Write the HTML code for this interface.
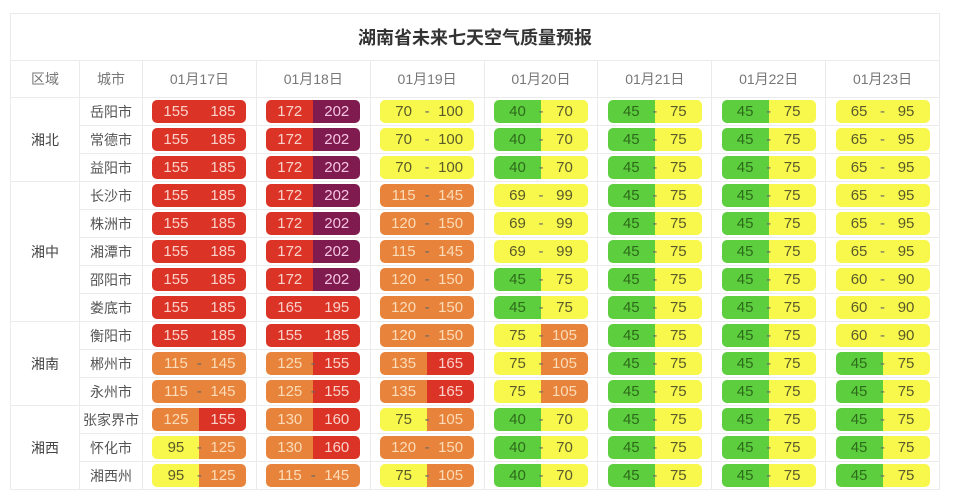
<!DOCTYPE html>
<html><head><meta charset="utf-8"><style>
*{margin:0;padding:0;box-sizing:border-box}
body{width:960px;height:496px;background:#fff;font-family:"Liberation Sans","Noto Sans CJK SC",sans-serif;overflow:hidden;position:relative}
table{position:absolute;left:10px;top:13px;width:930px;border-collapse:collapse;table-layout:fixed}
td,th{border:1px solid #ebebeb;text-align:center;font-weight:normal}
.t{height:47px;font-size:18px;font-weight:bold;color:#333}
.h th{height:37px;font-size:14px;color:#777}
tr.d td{height:28px;padding:0}
.reg{font-size:14px;color:#444}
.city{font-size:14px;color:#555}
.p{position:relative;margin:0 auto;width:94px;height:23px;border-radius:5px;overflow:hidden;display:flex;font-size:15px;line-height:23px}
.p i{font-style:normal;flex:1;text-align:center}
.p b{position:absolute;left:44px;top:0;width:6px;text-align:center;font-weight:normal;color:#666}
.g{background:#5dcf3f;color:#2d6a1a}
.y{background:#f8f84c;color:#5a5a2a}
.o{background:#e8833b;color:#fcdcb8}
.r{background:#dc3327;color:#fad2ca}
.u{background:#7f1b4f;color:#f6c4e2}
</style></head><body>
<table>
<colgroup><col style="width:69px"><col style="width:63px"><col><col><col><col><col><col><col></colgroup>
<tr><td colspan="9" class="t">湖南省未来七天空气质量预报</td></tr>
<tr class="h"><th>区域</th><th>城市</th><th>01月17日</th><th>01月18日</th><th>01月19日</th><th>01月20日</th><th>01月21日</th><th>01月22日</th><th>01月23日</th></tr>

<tr class="d"><td rowspan="3" class="reg">湘北</td><td class="city">岳阳市</td>
<td><div class="p"><i class="r">155</i><i class="r">185</i></div></td>
<td><div class="p"><i class="r">172</i><i class="u">202</i></div></td>
<td><div class="p"><i class="y">70</i><i class="y">100</i><b>-</b></div></td>
<td><div class="p"><i class="g">40</i><i class="y">70</i><b>-</b></div></td>
<td><div class="p"><i class="g">45</i><i class="y">75</i><b>-</b></div></td>
<td><div class="p"><i class="g">45</i><i class="y">75</i><b>-</b></div></td>
<td><div class="p"><i class="y">65</i><i class="y">95</i><b>-</b></div></td></tr>
<tr class="d"><td class="city">常德市</td>
<td><div class="p"><i class="r">155</i><i class="r">185</i></div></td>
<td><div class="p"><i class="r">172</i><i class="u">202</i></div></td>
<td><div class="p"><i class="y">70</i><i class="y">100</i><b>-</b></div></td>
<td><div class="p"><i class="g">40</i><i class="y">70</i><b>-</b></div></td>
<td><div class="p"><i class="g">45</i><i class="y">75</i><b>-</b></div></td>
<td><div class="p"><i class="g">45</i><i class="y">75</i><b>-</b></div></td>
<td><div class="p"><i class="y">65</i><i class="y">95</i><b>-</b></div></td></tr>
<tr class="d"><td class="city">益阳市</td>
<td><div class="p"><i class="r">155</i><i class="r">185</i></div></td>
<td><div class="p"><i class="r">172</i><i class="u">202</i></div></td>
<td><div class="p"><i class="y">70</i><i class="y">100</i><b>-</b></div></td>
<td><div class="p"><i class="g">40</i><i class="y">70</i><b>-</b></div></td>
<td><div class="p"><i class="g">45</i><i class="y">75</i><b>-</b></div></td>
<td><div class="p"><i class="g">45</i><i class="y">75</i><b>-</b></div></td>
<td><div class="p"><i class="y">65</i><i class="y">95</i><b>-</b></div></td></tr>

<tr class="d"><td rowspan="5" class="reg">湘中</td><td class="city">长沙市</td>
<td><div class="p"><i class="r">155</i><i class="r">185</i></div></td>
<td><div class="p"><i class="r">172</i><i class="u">202</i></div></td>
<td><div class="p"><i class="o">115</i><i class="o">145</i><b>-</b></div></td>
<td><div class="p"><i class="y">69</i><i class="y">99</i><b>-</b></div></td>
<td><div class="p"><i class="g">45</i><i class="y">75</i><b>-</b></div></td>
<td><div class="p"><i class="g">45</i><i class="y">75</i><b>-</b></div></td>
<td><div class="p"><i class="y">65</i><i class="y">95</i><b>-</b></div></td></tr>
<tr class="d"><td class="city">株洲市</td>
<td><div class="p"><i class="r">155</i><i class="r">185</i></div></td>
<td><div class="p"><i class="r">172</i><i class="u">202</i></div></td>
<td><div class="p"><i class="o">120</i><i class="o">150</i><b>-</b></div></td>
<td><div class="p"><i class="y">69</i><i class="y">99</i><b>-</b></div></td>
<td><div class="p"><i class="g">45</i><i class="y">75</i><b>-</b></div></td>
<td><div class="p"><i class="g">45</i><i class="y">75</i><b>-</b></div></td>
<td><div class="p"><i class="y">65</i><i class="y">95</i><b>-</b></div></td></tr>
<tr class="d"><td class="city">湘潭市</td>
<td><div class="p"><i class="r">155</i><i class="r">185</i></div></td>
<td><div class="p"><i class="r">172</i><i class="u">202</i></div></td>
<td><div class="p"><i class="o">115</i><i class="o">145</i><b>-</b></div></td>
<td><div class="p"><i class="y">69</i><i class="y">99</i><b>-</b></div></td>
<td><div class="p"><i class="g">45</i><i class="y">75</i><b>-</b></div></td>
<td><div class="p"><i class="g">45</i><i class="y">75</i><b>-</b></div></td>
<td><div class="p"><i class="y">65</i><i class="y">95</i><b>-</b></div></td></tr>
<tr class="d"><td class="city">邵阳市</td>
<td><div class="p"><i class="r">155</i><i class="r">185</i></div></td>
<td><div class="p"><i class="r">172</i><i class="u">202</i></div></td>
<td><div class="p"><i class="o">120</i><i class="o">150</i><b>-</b></div></td>
<td><div class="p"><i class="g">45</i><i class="y">75</i><b>-</b></div></td>
<td><div class="p"><i class="g">45</i><i class="y">75</i><b>-</b></div></td>
<td><div class="p"><i class="g">45</i><i class="y">75</i><b>-</b></div></td>
<td><div class="p"><i class="y">60</i><i class="y">90</i><b>-</b></div></td></tr>
<tr class="d"><td class="city">娄底市</td>
<td><div class="p"><i class="r">155</i><i class="r">185</i></div></td>
<td><div class="p"><i class="r">165</i><i class="r">195</i></div></td>
<td><div class="p"><i class="o">120</i><i class="o">150</i><b>-</b></div></td>
<td><div class="p"><i class="g">45</i><i class="y">75</i><b>-</b></div></td>
<td><div class="p"><i class="g">45</i><i class="y">75</i><b>-</b></div></td>
<td><div class="p"><i class="g">45</i><i class="y">75</i><b>-</b></div></td>
<td><div class="p"><i class="y">60</i><i class="y">90</i><b>-</b></div></td></tr>

<tr class="d"><td rowspan="3" class="reg">湘南</td><td class="city">衡阳市</td>
<td><div class="p"><i class="r">155</i><i class="r">185</i></div></td>
<td><div class="p"><i class="r">155</i><i class="r">185</i></div></td>
<td><div class="p"><i class="o">120</i><i class="o">150</i><b>-</b></div></td>
<td><div class="p"><i class="y">75</i><i class="o">105</i><b>-</b></div></td>
<td><div class="p"><i class="g">45</i><i class="y">75</i><b>-</b></div></td>
<td><div class="p"><i class="g">45</i><i class="y">75</i><b>-</b></div></td>
<td><div class="p"><i class="y">60</i><i class="y">90</i><b>-</b></div></td></tr>
<tr class="d"><td class="city">郴州市</td>
<td><div class="p"><i class="o">115</i><i class="o">145</i><b>-</b></div></td>
<td><div class="p"><i class="o">125</i><i class="r">155</i><b>-</b></div></td>
<td><div class="p"><i class="o">135</i><i class="r">165</i></div></td>
<td><div class="p"><i class="y">75</i><i class="o">105</i><b>-</b></div></td>
<td><div class="p"><i class="g">45</i><i class="y">75</i><b>-</b></div></td>
<td><div class="p"><i class="g">45</i><i class="y">75</i><b>-</b></div></td>
<td><div class="p"><i class="g">45</i><i class="y">75</i><b>-</b></div></td></tr>
<tr class="d"><td class="city">永州市</td>
<td><div class="p"><i class="o">115</i><i class="o">145</i><b>-</b></div></td>
<td><div class="p"><i class="o">125</i><i class="r">155</i><b>-</b></div></td>
<td><div class="p"><i class="o">135</i><i class="r">165</i></div></td>
<td><div class="p"><i class="y">75</i><i class="o">105</i><b>-</b></div></td>
<td><div class="p"><i class="g">45</i><i class="y">75</i><b>-</b></div></td>
<td><div class="p"><i class="g">45</i><i class="y">75</i><b>-</b></div></td>
<td><div class="p"><i class="g">45</i><i class="y">75</i><b>-</b></div></td></tr>

<tr class="d"><td rowspan="3" class="reg">湘西</td><td class="city">张家界市</td>
<td><div class="p"><i class="o">125</i><i class="r">155</i></div></td>
<td><div class="p"><i class="o">130</i><i class="r">160</i></div></td>
<td><div class="p"><i class="y">75</i><i class="o">105</i><b>-</b></div></td>
<td><div class="p"><i class="g">40</i><i class="y">70</i><b>-</b></div></td>
<td><div class="p"><i class="g">45</i><i class="y">75</i><b>-</b></div></td>
<td><div class="p"><i class="g">45</i><i class="y">75</i><b>-</b></div></td>
<td><div class="p"><i class="g">45</i><i class="y">75</i><b>-</b></div></td></tr>
<tr class="d"><td class="city">怀化市</td>
<td><div class="p"><i class="y">95</i><i class="o">125</i><b>-</b></div></td>
<td><div class="p"><i class="o">130</i><i class="r">160</i></div></td>
<td><div class="p"><i class="o">120</i><i class="o">150</i><b>-</b></div></td>
<td><div class="p"><i class="g">40</i><i class="y">70</i><b>-</b></div></td>
<td><div class="p"><i class="g">45</i><i class="y">75</i><b>-</b></div></td>
<td><div class="p"><i class="g">45</i><i class="y">75</i><b>-</b></div></td>
<td><div class="p"><i class="g">45</i><i class="y">75</i><b>-</b></div></td></tr>
<tr class="d"><td class="city">湘西州</td>
<td><div class="p"><i class="y">95</i><i class="o">125</i><b>-</b></div></td>
<td><div class="p"><i class="o">115</i><i class="o">145</i><b>-</b></div></td>
<td><div class="p"><i class="y">75</i><i class="o">105</i><b>-</b></div></td>
<td><div class="p"><i class="g">40</i><i class="y">70</i><b>-</b></div></td>
<td><div class="p"><i class="g">45</i><i class="y">75</i><b>-</b></div></td>
<td><div class="p"><i class="g">45</i><i class="y">75</i><b>-</b></div></td>
<td><div class="p"><i class="g">45</i><i class="y">75</i><b>-</b></div></td></tr>
</table>
</body></html>
